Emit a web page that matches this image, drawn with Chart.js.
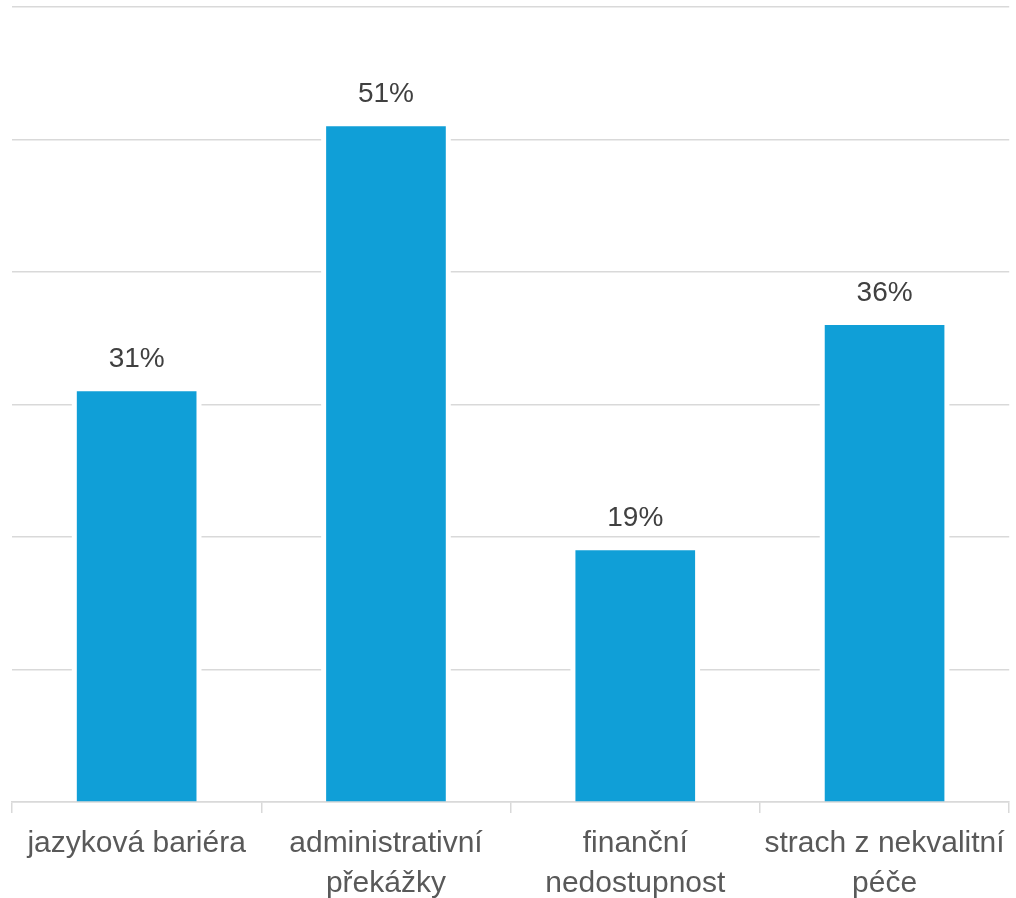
<!DOCTYPE html>
<html lang="cs">
<head>
<meta charset="utf-8">
<title>Bariéry v přístupu ke zdravotní péči</title>
<script src="https://cdn.jsdelivr.net/npm/chart.js@4/dist/chart.umd.min.js"></script>
<style>
  html, body { margin: 0; padding: 0; background: #ffffff; }
  #wrap { width: 1016px; height: 898px; position: relative; }
</style>
</head>
<body>
<div id="wrap"><canvas id="chart"></canvas></div>
<script>
// Categories (multi-line labels as arrays) and shares in percent
const categories = [
  'jazyková bariéra',
  ['administrativní', 'překážky'],
  ['finanční', 'nedostupnost'],
  ['strach z nekvalitní', 'péče']
];
const shares = [31, 51, 19, 36];
const yTicks = [0, 10, 20, 30, 40, 50, 60];

const FONT = "'Liberation Sans', Arial, sans-serif";
const GRID = '#d9d9d9';

// White halo behind each bar so gridlines stop just short of the bar sides
const barHalo = {
  id: 'barHalo',
  beforeDatasetsDraw(chart) {
    const ctx = chart.ctx;
    const meta = chart.getDatasetMeta(0);
    ctx.save();
    ctx.fillStyle = '#ffffff';
    meta.data.forEach(bar => {
      const p = bar.getProps(['x', 'y', 'base', 'width'], true);
      const pad = 5;
      ctx.fillRect(p.x - p.width / 2 - pad, p.y, p.width + pad * 2, p.base - p.y - 1);
    });
    ctx.restore();
  }
};

// Value labels above bars
const valueLabels = {
  id: 'valueLabels',
  afterDatasetsDraw(chart) {
    const ctx = chart.ctx;
    const meta = chart.getDatasetMeta(0);
    const data = chart.data.datasets[0].data;
    ctx.save();
    ctx.font = '28px ' + FONT;
    ctx.fillStyle = '#404040';
    ctx.textAlign = 'center';
    ctx.textBaseline = 'alphabetic';
    meta.data.forEach((bar, i) => {
      const p = bar.getProps(['x', 'y'], true);
      ctx.fillText(data[i] + '%', p.x, p.y - 24);
    });
    ctx.restore();
  }
};

new Chart(document.getElementById('chart'), {
  type: 'bar',
  data: {
    labels: categories,
    datasets: [{
      data: shares,
      backgroundColor: '#109fd7',
      borderWidth: 0,
      categoryPercentage: 1.0,
      barPercentage: 0.48
    }]
  },
  options: {
    responsive: true,
    maintainAspectRatio: false,
    animation: false,
    layout: { padding: { left: 12, right: 3, top: 7, bottom: 0 } },
    plugins: {
      legend: { display: false },
      tooltip: { enabled: false }
    },
    scales: {
      x: {
        offset: true,
        afterFit(axis) { axis.height = 96; },
        grid: {
          display: true,
          offset: true,
          drawOnChartArea: false,
          drawTicks: true,
          tickLength: 11,
          color: GRID,
          lineWidth: 1.5
        },
        border: { display: true, color: GRID, width: 1.5 },
        ticks: {
          autoSkip: false,
          maxRotation: 0,
          minRotation: 0,
          padding: 11,
          color: '#595959',
          font: { family: FONT, size: 30, lineHeight: 1.33 }
        }
      },
      y: {
        min: yTicks[0],
        max: yTicks[yTicks.length - 1],
        afterBuildTicks(axis) {
          axis.ticks = yTicks.map(v => ({ value: v }));
        },
        ticks: { display: false },
        border: { display: false },
        grid: {
          color: GRID,
          lineWidth: 1.5,
          drawTicks: false
        }
      }
    }
  },
  plugins: [barHalo, valueLabels]
});
</script>
</body>
</html>
